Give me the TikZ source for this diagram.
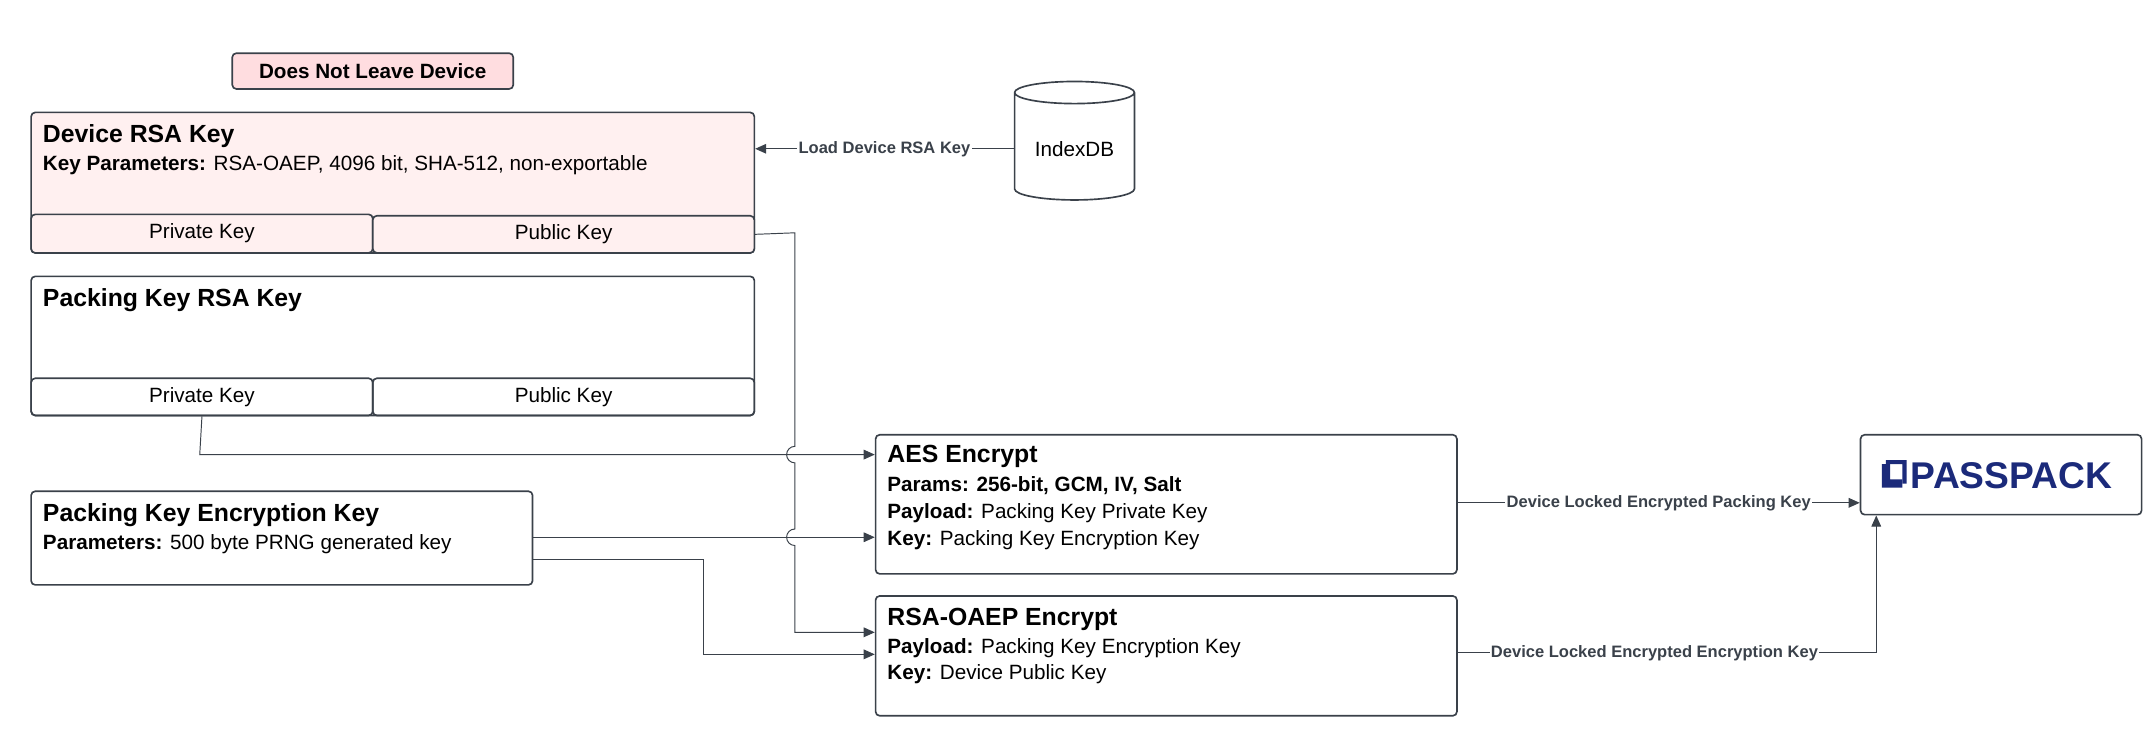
\documentclass[tikz,border=0pt]{standalone}
\usepackage{fontspec}
\setmainfont{Liberation Sans}
\usetikzlibrary{arrows.meta,positioning,shapes.geometric}
\definecolor{edge}{HTML}{3A414A}
\definecolor{keypink}{HTML}{FFF0F0}
\definecolor{tagpink}{HTML}{FFDDE0}
\definecolor{navy}{HTML}{1B2A7A}

\tikzset{
  box/.style={draw=edge,line width=1.2pt,rounded corners=3pt,anchor=north west,inner sep=0pt},
  title/.style={anchor=north west,inner sep=0pt,font=\fontsize{18}{21}\selectfont\bfseries},
  body/.style={anchor=north west,inner sep=0pt,font=\fontsize{15}{18}\selectfont},
  elabel/.style={fill=white,inner sep=1pt,font=\fontsize{12}{14}\selectfont\bfseries,text=edge},
  conn/.style={draw=edge,line width=0.7pt,-{Triangle[length=8pt,width=7pt]}}
}

\begin{document}
\begin{tikzpicture}[x=1pt,y=-1pt]
\useasboundingbox (0,0) rectangle (1560,538);
% tag and key boxes
   \node[box,fill=tagpink,minimum width=204pt,minimum height=26pt] (tag) at (168,38) {};
   \node[font=\fontsize{15}{18}\selectfont\bfseries] at (tag.center) {Does Not Leave Device};
   \node[box,fill=keypink,minimum width=525pt,minimum height=102pt] (dev) at (22,81) {};
   \node[title] at (31,90) {Device RSA Key};
   \node[body] at (31,113) {\textbf{Key Parameters:} RSA-OAEP, 4096 bit, SHA-512, non-exportable};
   \node[box,fill=keypink,minimum width=248pt,minimum height=28pt,font=\fontsize{15}{18}\selectfont] (devpriv) at (22,155) {Private Key};
   \node[box,fill=keypink,minimum width=277pt,minimum height=27pt,font=\fontsize{15}{18}\selectfont] (devpub) at (270,156) {Public Key};
   \node[box,minimum width=525pt,minimum height=101pt] (pk) at (22,200) {};
   \node[title] at (31,209) {Packing Key RSA Key};
   \node[box,minimum width=248pt,minimum height=27pt,font=\fontsize{15}{18}\selectfont] (pkpriv) at (22,274) {Private Key};
   \node[box,minimum width=277pt,minimum height=27pt,font=\fontsize{15}{18}\selectfont] (pkpub) at (270,274) {Public Key};
   \node[box,minimum width=364pt,minimum height=68pt] (pkek) at (22,356) {};
   \node[title] at (31,365) {Packing Key Encryption Key};
   \node[body] at (31,388) {\textbf{Parameters:} 500 byte PRNG generated key};
% storage and encryption steps
   \node[cylinder,shape border rotate=90,aspect=0.25,draw=edge,line width=1.2pt,minimum width=87pt,minimum height=86pt,
         font=\fontsize{15}{18}\selectfont] (db) at (780,108) {IndexDB};
   \node[box,minimum width=422pt,minimum height=101pt] (aes) at (635,315) {};
   \node[title] at (644,323) {AES Encrypt};
   \node[body] at (644,346) {\textbf{Params: 256-bit, GCM, IV, Salt}};
   \node[body] at (644,365) {\textbf{Payload:} Packing Key Private Key};
   \node[body] at (644,385) {\textbf{Key:} Packing Key Encryption Key};
   \node[box,minimum width=422pt,minimum height=87pt] (rsa) at (635,432) {};
   \node[title] at (644,441) {RSA-OAEP Encrypt};
   \node[body] at (644,463) {\textbf{Payload:} Packing Key Encryption Key};
   \node[body] at (644,482) {\textbf{Key:} Device Public Key};
   \node[box,minimum width=204pt,minimum height=58pt] (pp) at (1350,315) {};
   \fill[navy] (1366,337) rectangle (1372,354) (1372,348) rectangle (1381,354);
   \fill[navy] (1369,334) rectangle (1384,337) (1381,334) rectangle (1384,351);
   \node[anchor=west,inner sep=0pt,text=navy,font=\fontsize{27}{30}\selectfont\bfseries] at (1387,345) {PASSPACK};
% connectors
   \draw[conn] (db.west) -- node[elabel] {Load Device RSA Key} (dev.east |- db.west);
   \draw[conn] (devpub.east) -- (577,169) -- (577,324) arc[start angle=90,end angle=270,radius=6pt]
      -- (577,384) arc[start angle=90,end angle=270,radius=6pt] -- (577,459) -- (rsa.west |- 0,459);
   \draw[conn] (pkpriv.south) -- (145,330) -- (aes.west |- 0,330);
   \draw[conn] (pkek.east |- 0,390) -- (aes.west |- 0,390);
   \draw[conn] (pkek.east |- 0,406) -- (511,406) -- (511,475) -- (rsa.west |- 0,475);
   \draw[conn] (aes.east |- 0,365) -- node[elabel] {Device Locked Encrypted Packing Key} (pp.west |- 0,365);
   \draw[conn] (rsa.east |- 0,474) -- node[elabel,pos=0.47] {Device Locked Encrypted Encryption Key} (1362,474) -- (pp.south -| 1362,0);
\end{tikzpicture}
\end{document}
